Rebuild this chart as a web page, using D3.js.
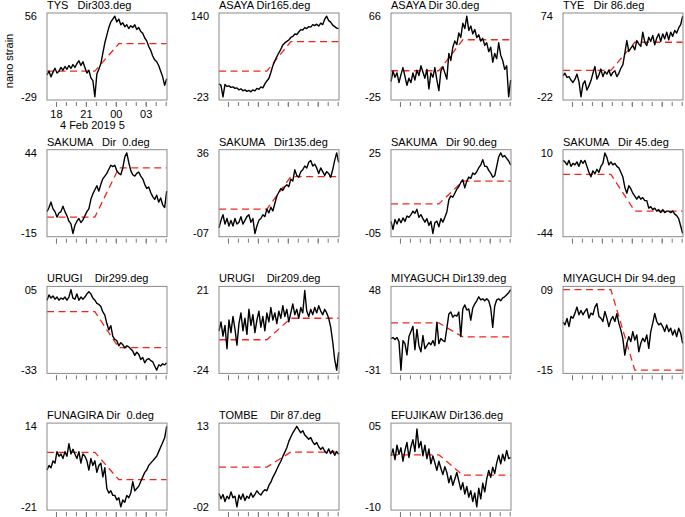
<!DOCTYPE html>
<html><head><meta charset="utf-8">
<script src="https://cdn.jsdelivr.net/npm/d3@7"></script>
<style>
body{margin:0;background:#fff}
text{font-family:"Liberation Sans",Arial,Helvetica,sans-serif;font-size:11px;fill:#000}
</style>
</head><body><svg id="c" width="685" height="517"></svg>
<script>
// ---------- data ----------
const titles = [
  "TYS   Dir303.deg", "ASAYA Dir165.deg", "ASAYA Dir 30.deg", "TYE   Dir 86.deg",
  "SAKUMA   Dir  0.deg", "SAKUMA   Dir135.deg", "SAKUMA   Dir 90.deg", "SAKUMA   Dir 45.deg",
  "URUGI    Dir299.deg", "URUGI    Dir209.deg", "MIYAGUCH Dir139.deg", "MIYAGUCH Dir 94.deg",
  "FUNAGIRA Dir  0.deg", "TOMBE    Dir 87.deg", "EFUJIKAW Dir136.deg"
];
const yMaxLabels = ["56","140","66","74","44","36","25","10","05","21","48","09","14","13","05"];
const yMinLabels = ["-29","-23","-25","-22","-15","-07","-05","-44","-33","-24","-31","-15","-21","-02","-10"];
const redBefore = [-2, 29, 4.4, 9.4, -3, 6, 6, -4.4, -5.4, -7, 15.3, 9, 2.7, 5.4, -0.3];
const redAfter  = [27, 88.5, 39.4, 43, 33, 23.3, 14.5, -29, -22.4, 5, 1.6, -15, -9.2, 8.2, -4.1];

const s1 = [-6,-2,-8,-3,1,-4,-2,2,-1,3,0,4,1,5,2,6,9,4,8,2,-4,-1,-9,-12,-29,-5,0,6,17,28,36,44,50,53,56,50,53,47,49,45,47,43,46,44,47,42,44,40,38,33,30,24,20,14,10,8,4,-2,-8,-17,-10];
const s2 = [3,0,-23,2,-2,-1,-4,-3,-6,-5,-9,-7,-11,-9,-12,-10,-13,-9,-11,-6,-8,-3,-5,3,9,14,26,40,50,58,66,73,82,86,89,92,97,99,104,103,108,113,112,117,115,119,118,123,121,124,120,126,123,134,140,131,128,122,119,116,115];
const s3 = [-8,4,-3,2,-9,0,8,-2,-12,-4,-9,2,-6,5,-1,10,3,-4,6,-16,2,-3,8,-6,-18,4,9,2,-5,24,16,31,38,34,47,42,58,52,66,50,55,46,51,42,45,38,41,33,36,26,31,14,24,18,36,22,16,6,10,-25,-6];
const s4 = [3,6,1,2,-2,-5,-1,5,-4,-22,-7,-3,-14,-9,-3,6,14,-1,4,11,2,8,5,10,3,7,9,2,6,12,16,30,45,32,36,39,34,45,41,38,55,43,39,49,44,51,40,48,53,44,53,47,55,46,55,50,57,54,60,64,74];
const s5 = [1,4,8,3,1,-3,0,1,5,1,-2,-6,-8,-15,-9,-6,-4,-7,-5,-2,1,3,10,14,17,20,16,21,25,27,29,32,35,34,35,31,29,28,33,41,44,37,31,28,27,29,30,27,25,21,18,19,15,12,10,13,8,11,6,4,16];
const s6 = [-4,0,3,-2,1,-3,0,-3,1,-2,-1,2,-2,0,2,3,-1,1,-7,-3,0,1,3,2,6,4,7,5,9,13,15,17,16,18,19,18,22,21,27,24,23,26,27,29,28,31,32,29,30,28,25,28,26,24,26,25,23,27,32,36,31];
const s7 = [-0.5,-3.5,0.2,-1.5,0.5,-1,0.8,-0.5,1.5,1,2,3.3,2.5,4,1,2,0.5,-0.8,0.5,-2,-0.5,-5,-1,-0.4,-2.5,0.5,-0.8,1,3,7.5,9,8.5,10,11.5,12.5,14,15,12,14.5,16,15.5,17.5,17,18,19.5,20.5,22.5,20,20,18.5,17.5,16,16.5,20,23.5,25,23.5,24,23,22,20.5];
const s8 = [5,4,2,5,1,3,2,4,1,5,3,5,1,-3,-6,-2,-4,-1,-3,1,3,10,7,2,4,2,3,1,0,-3,-6,-13,-17,-12,-14,-17,-19,-21,-19,-21,-20,-22,-22,-27,-26,-28,-27,-29,-28,-30,-28,-30,-29,-29,-30,-29,-31,-32,-34,-39,-44];
const s9 = [0,2.5,1,2,0.5,1.5,0,1,0.5,1.5,0,1.5,5,1,0.5,3,0,1.5,0.5,1.5,3,4,3,1,0,-1.5,-2,-3,-5.5,-7,-11,-14,-12,-17,-18.5,-19,-21.5,-20,-21,-22.5,-21.5,-22,-23,-24,-26,-24.5,-25.5,-28,-27,-29.5,-28,-27.5,-28.5,-29,-31,-33,-30.5,-31,-30,-30.5,-29.5];
const s10 = [-2,3,-5,1,-12,4,-3,6,-1,-10,2,8,-2,5,-4,10,1,7,-3,4,9,0,6,-2,8,3,11,4,8,2,9,5,12,6,10,3,8,13,7,10,5,11,8,20.5,9,6,10,7,11,8,12,9,7,10,8,5,0,-8,-18,-24,-14];
const s11 = [0,1,-1,1,-3,-31,-2,-5,-16,2,7,12,-11,9,-7,-13,3,-10,-7,-4,-6,-2,-7,16,-5,0,-2,-3,10,24,26,21,23,22,26,2,29,33,28,29,18,30,34,37,41,38,39,37,39,37,30,11,32,38,39,37,40,41,43,45,48];
const s12 = [-0.6,-1.5,0.4,-2,1,0.5,2,3.8,1.5,2.8,1.5,2.5,3.3,0.5,2,1.5,3.8,4.8,1,0.5,-0.5,2.5,0.5,-2,0,1,-0.5,1.8,-1,-3,-5.6,-10.5,-7,-5,-6.5,-3.5,-6,-4.5,-9.5,-7,-5.5,-6.5,-4.5,-8.5,-3.5,-1,1.9,-0.5,-1.5,-1,-2,-3.5,-1.5,-3.5,-2.5,-4.5,-3,-5,-2.5,-4,-7];
const s13 = [-5,-3,-4,-1,-2,3,1,2,0,3,1,6.5,2,4,2,0,3,-2,2,1,-1,-5,0,-3,-1,-6,-3,-2,-8,-4,-13,-15,-14,-16,-16,-18,-17,-21,-18,-19,-16,-17,-15,-10,-14,-13,-12,-10,-8,-6,-5,-3,-2,-1,0,1,3,5,7,9,14];
const s14 = [0.5,-0.5,0.3,-1,0,-0.5,0.8,-0.3,0,-2,0.2,-0.6,0.4,-0.8,0,-0.4,0.6,-0.2,0.3,1.0,0.5,0.2,0.8,1.2,1.0,2.0,2.6,3.5,4.2,5.0,5.8,6.5,7.4,8.2,9.0,10.2,11.0,11.8,12.4,13,12.4,11.8,12.2,11.4,11.0,10.6,10.9,10.1,9.6,10.0,9.2,8.7,9.1,8.4,8.0,8.8,7.9,8.5,7.6,8.3,7.8];
const s15 = [-0.5,0.8,-1.2,1.5,-0.2,1.0,-1.5,0.5,2.0,-0.8,1.2,2.5,0.3,4.5,1.0,2.2,-0.5,1.5,-1.0,0.8,-2.0,-0.5,-1.8,-3.2,-1.5,-2.8,-4.0,-2.5,-3.6,-5.5,-4.2,-6.0,-4.8,-3.6,-5.2,-6.8,-5.5,-7.6,-6.2,-8.2,-7.0,-9.0,-7.4,-10,-6.5,-8.5,-5.6,-7.2,-4.8,-3.2,-4.5,-2.6,-3.8,-1.8,-0.4,-2.0,-0.2,-1.4,0.5,-1.0,-0.8];
const series = [s1,s2,s3,s4,s5,s6,s7,s8,s9,s10,s11,s12,s13,s14,s15];

const sampleStart = new Date(2019, 1, 4, 17, 6);
const sampleStepMinutes = 12;
const redTimes = [new Date(2019,1,4,17,6), new Date(2019,1,4,21,54), new Date(2019,1,5,0,18), new Date(2019,1,5,5,6)];
const xDomain = [new Date(2019,1,4,17,6), new Date(2019,1,5,5,8)];
const dateLabel = "4 Feb 2019 5";
const yAxisTitle = "nano strain";

// ---------- drawing ----------
const svg = d3.select("#c");
const colX = [47, 219, 391, 563];
const boxW = 120, boxH = 87, rowStep = 136.7, firstTop = 13;
const times = d3.range(s1.length).map(i => new Date(+sampleStart + i * sampleStepMinutes * 60000));

series.forEach((vals, k) => {
  const r = Math.floor(k / 4), c = k % 4;
  const left = colX[c], top = firstTop + r * rowStep;
  const g = svg.append("g").attr("transform", `translate(${left},${top})`);
  const x = d3.scaleTime().domain(xDomain).range([0, boxW]);
  const lo = +yMinLabels[k], hi = +yMaxLabels[k], pad = (hi - lo) * 0.04;
  const y = d3.scaleLinear().domain([lo - pad, hi + pad]).range([boxH, 0]);

  // minor ticks (hourly)
  const minor = g.append("g").attr("transform", `translate(0,${boxH + 2})`)
    .call(d3.axisBottom(x).ticks(d3.timeHour.every(1)).tickSize(4).tickFormat(""));
  minor.select(".domain").remove();
  minor.selectAll("text").remove();
  minor.selectAll("line").attr("stroke", "#777");
  // major ticks (every 3 h)
  const major = g.append("g").attr("transform", `translate(0,${boxH + 2})`)
    .call(d3.axisBottom(x).ticks(d3.timeHour.every(3)).tickSize(5)
      .tickPadding(3).tickFormat(d3.timeFormat("%H")));
  major.select(".domain").remove();
  major.selectAll("line").attr("stroke", "#777");
  if (k === 0) {
    major.selectAll("text").attr("font-size", "11px").attr("font-family", "Liberation Sans, Arial, sans-serif");
  } else {
    major.selectAll("text").remove();
  }

  // red dashed model line
  const redVals = [redBefore[k], redBefore[k], redAfter[k], redAfter[k]];
  g.append("path")
    .attr("d", d3.line().x((d, i) => x(redTimes[i])).y(d => y(d))(redVals))
    .attr("fill", "none").attr("stroke", "#f0261c").attr("stroke-width", 1.3)
    .attr("stroke-dasharray", "7,4.5");

  // black observed line
  g.append("path")
    .attr("d", d3.line().x((d, i) => x(times[i])).y(d => y(d))(vals))
    .attr("fill", "none").attr("stroke", "#000").attr("stroke-width", 1.4)
    .attr("stroke-linejoin", "round");

  // box
  g.append("rect").attr("width", boxW).attr("height", boxH)
    .attr("fill", "none").attr("stroke", "#8a8a8a").attr("stroke-width", 1);

  // y labels
  g.append("text").attr("x", -10).attr("y", y(hi)).attr("text-anchor", "end")
    .attr("dominant-baseline", "central").text(yMaxLabels[k]);
  g.append("text").attr("x", -10).attr("y", y(lo)).attr("text-anchor", "end")
    .attr("dominant-baseline", "central").text(yMinLabels[k]);

  // title
  g.append("text").attr("x", 0).attr("y", -4).style("white-space", "pre")
    .attr("xml:space", "preserve").text(titles[k]);

  if (k === 0) {
    g.append("text").attr("x", x(new Date(2019,1,4,18,0)) + 4).attr("y", boxH + 29)
      .style("white-space", "pre").text(dateLabel);
  }
});

svg.append("text").attr("transform", "translate(9,61) rotate(-90)")
  .attr("text-anchor", "middle").attr("dominant-baseline", "central").text(yAxisTitle);
</script>
</body></html>
